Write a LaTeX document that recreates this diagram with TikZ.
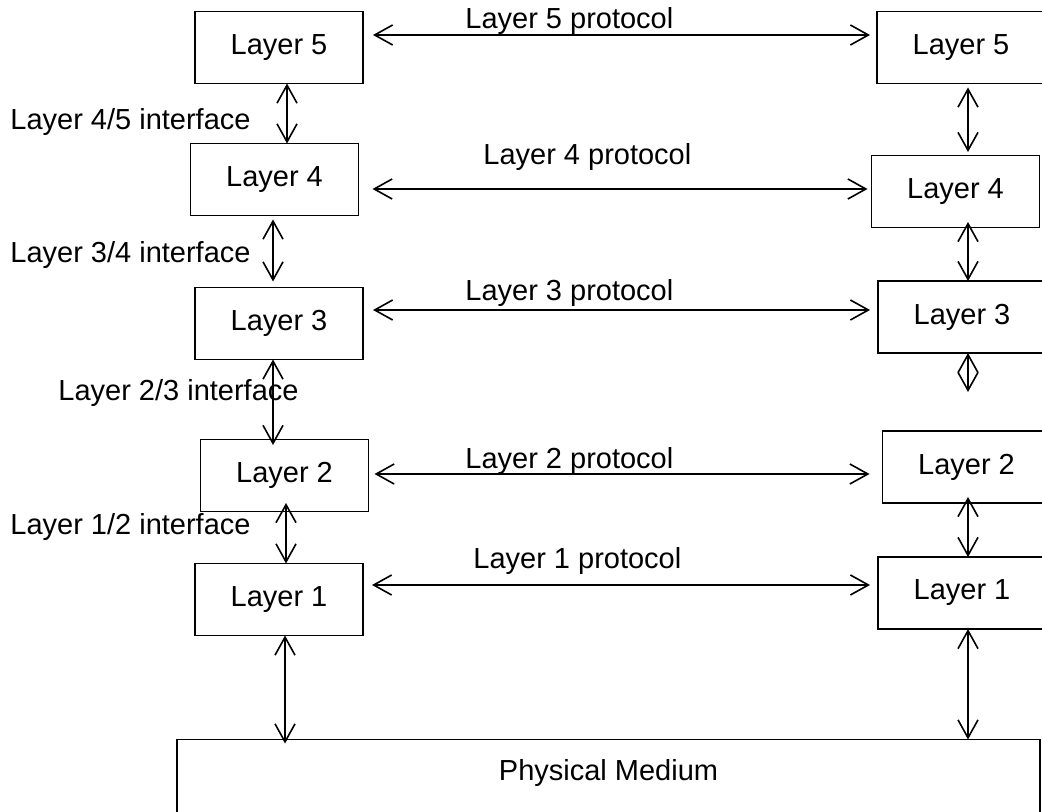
\documentclass[tikz,border=0pt]{standalone}
\usepackage{fontspec}
\setmainfont{Liberation Sans}
\usetikzlibrary{shapes, arrows.meta, positioning}

\begin{document}
\begin{tikzpicture}[x=0.5pt, y=-0.5pt, node distance=30pt, auto]
        % 定義方塊、文字與箭頭的樣式
        \tikzstyle{layer} = [rectangle, minimum width=84pt, minimum height=36pt, outer sep=0pt, text centered, draw=black, line width=0.9pt, font=\fontsize{14.5}{17}\selectfont]
        \tikzstyle{medium} = [rectangle, minimum width=431.5pt, inner ysep=0pt, text height=20.5pt, text depth=20pt, outer sep=0pt, draw=black, line width=0.9pt, font=\fontsize{14.5}{17}\selectfont]
        \tikzstyle{tag} = [anchor=base west, inner sep=0pt, font=\fontsize{14.5}{17}\selectfont]
        \tikzstyle{arrow} = [line width=0.8pt, <->, >={Straight Barb[length=9pt, width=10pt]}]

        \clip (0,0) rectangle (1042,812);

        % 左邊: Layer 5 到 Layer 1
        \node (l5) [layer] at (279,47.5) {Layer 5};
        \node (l4) [layer, below=30pt of l5, xshift=-2.25pt] {Layer 4};
        \node (l3) [layer, below=36pt of l4, xshift=2.25pt] {Layer 3};
        \node (l2) [layer, below=40pt of l3, xshift=2.75pt] {Layer 2};
        \node (l1) [layer, below=26pt of l2, xshift=-2.75pt] {Layer 1};

        % 右邊: 對應的各層
        \node (r5) [layer, right=257pt of l5] {Layer 5};
        \node (r4) [layer, right=256.5pt of l4, yshift=-6pt] {Layer 4};
        \node (r3) [layer, right=257.5pt of l3, yshift=3.25pt] {Layer 3};
        \node (r2) [layer, right=257pt of l2, yshift=4.25pt] {Layer 2};
        \node (r1) [layer, right=257.5pt of l1, yshift=3.25pt] {Layer 1};

        % 底部: 實體媒介
        \node (medium) [medium, below=52pt of l1.south west, anchor=north west, xshift=-9pt] {Physical Medium};

        % 各層之間的協定
        \draw [arrow, shorten <=5pt, shorten >=3.5pt] ([yshift=6.25pt]l5.east) -- ([yshift=6.25pt]r5.west);
        \draw [arrow, shorten <=7pt, shorten >=2pt] ([yshift=-4.75pt]l4.east) -- ([yshift=1.25pt]r4.west);
        \draw [arrow, shorten <=5pt, shorten >=4pt] ([yshift=6.75pt]l3.east) -- ([yshift=3.5pt]r3.west);
        \draw [arrow, shorten <=3pt, shorten >=6.5pt] ([yshift=0.75pt]l2.east) -- ([yshift=-3.5pt]r2.west);
        \draw [arrow, shorten <=4.5pt, shorten >=4pt] ([yshift=7.25pt]l1.east) -- ([yshift=4pt]r1.west);

        \node (p5) [tag] at (465,29) {Layer 5 protocol};
        \node (p4) [tag] at (483,165) {Layer 4 protocol};
        \node (p3) [tag] at (465,300) {Layer 3 protocol};
        \node (p2) [tag] at (465,468) {Layer 2 protocol};
        \node (p1) [tag] at (473,568) {Layer 1 protocol};

        % 左邊的介面
        \draw [arrow] ([xshift=4pt]l5.south) -- ([xshift=6.25pt]l4.north);
        \draw [arrow, shorten <=2pt, shorten >=3pt] ([xshift=-0.75pt]l4.south) -- ([xshift=-3pt]l3.north);
        \draw [arrow] ([xshift=-3pt]l3.south) -- ([xshift=-5.75pt, yshift=-2.75pt]l2.north);
        \draw [arrow] ([xshift=0.75pt, yshift=4.25pt]l2.south) -- ([xshift=3.5pt]l1.north);
        \draw [arrow] ([xshift=3pt]l1.south) -- ([xshift=-161.75pt, yshift=-2pt]medium.north);

        \node (i45) [tag] at (10,130) {Layer 4/5 interface};
        \node (i34) [tag] at (10,263) {Layer 3/4 interface};
        \node (i23) [tag] at (58,400) {Layer 2/3 interface};
        \node (i12) [tag] at (10,534) {Layer 1/2 interface};

        % 右邊的介面
        \coordinate [below=19.5pt of r3.south, xshift=3pt] (r3end);
        \draw [arrow, shorten <=2pt, shorten >=1.75pt] ([xshift=3.5pt]r5.south) -- ([xshift=6.25pt]r4.north);
        \draw [arrow] ([xshift=6.25pt, yshift=2.75pt]r4.south) -- ([xshift=3pt]r3.north);
        \draw [arrow] ([xshift=3pt]r3.south) -- (r3end);
        \draw [arrow] ([xshift=0.75pt, yshift=3pt]r2.south) -- ([xshift=3pt]r1.north);
        \draw [arrow] ([xshift=3pt]r1.south) -- ([xshift=179.75pt]medium.north);

    \end{tikzpicture}
\end{document}
